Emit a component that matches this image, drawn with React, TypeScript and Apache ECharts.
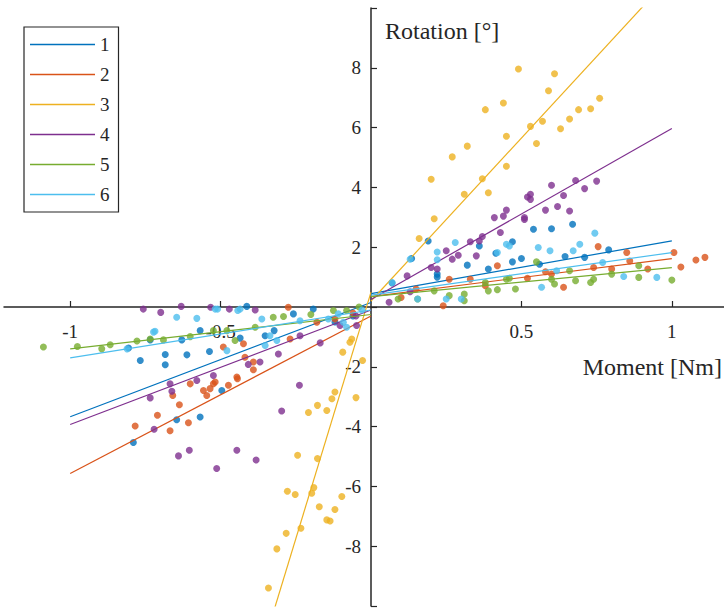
import React, { useEffect, useRef } from "react";
import * as echarts from "echarts";

const seriesNames = ["1", "2", "3", "4", "5", "6"];
const seriesColors = ["#0072BD", "#D95319", "#EDB120", "#7E2F8E", "#77AC30", "#4DBEEE"];

const xTickValues = [-1, -0.5, 0.5, 1];
const yTickLabelValues = [-8, -6, -4, -2, 2, 4, 6, 8];

// Measured points [moment, rotation]
const points1 = [
  [0.07, 0.8], [0.135, 1.62], [0.19, 2.21], [0.22, 1.0], [0.22, 1.1], [0.32, 1.4], [0.36, 2.04], [0.39, 1.27],
  [0.415, 1.8], [0.47, 2.18], [0.47, 1.51], [0.5, 1.62], [0.54, 2.6], [0.56, 1.43], [0.6, 2.62], [0.645, 1.69],
  [0.67, 2.77], [0.71, 1.66], [0.79, 1.91],
  [-0.806, -1.37], [-0.79, -4.53], [-0.767, -1.79], [-0.734, -1.1], [-0.684, -1.59], [-0.684, -1.93],
  [-0.646, -3.77], [-0.629, -1.1], [-0.612, -1.6], [-0.568, -3.68], [-0.568, -0.79], [-0.537, -1.49],
  [-0.496, -2.79], [-0.435, -1.04], [-0.413, 0.02], [-0.352, -0.96], [-0.322, -0.79], [-0.258, -0.23],
  [-0.192, -0.07], [-0.12, -0.5], [-0.06, -0.3],
];
const points2 = [
  [0.1, 0.32], [0.15, 0.6], [0.24, 0.04], [0.26, 0.93], [0.33, 0.93], [0.38, 0.71], [0.42, 1.38], [0.52, 0.96],
  [0.58, 1.18], [0.6, 1.1], [0.64, 0.66], [0.74, 1.32], [0.755, 2.02], [0.8, 1.27], [0.85, 1.82], [0.86, 1.54],
  [0.92, 1.27], [1.007, 1.82], [1.03, 1.34], [1.08, 1.57], [1.11, 1.66],
  [-0.784, -3.98], [-0.71, -3.62], [-0.668, -4.14], [-0.607, -3.87], [-0.637, -3.27], [-0.659, -2.96],
  [-0.601, -2.57], [-0.546, -2.96], [-0.535, -2.73], [-0.518, -2.51], [-0.474, -2.62], [-0.444, -2.4],
  [-0.557, -2.79], [-0.524, -2.57], [-0.446, -2.34], [-0.419, -1.68], [-0.391, -2.1], [-0.391, -1.84],
  [-0.491, -1.34], [-0.424, -1.23], [-0.269, -1.07], [-0.275, -0.01], [-0.18, -0.51], [-0.12, -0.4], [-0.06, -0.2],
];
const points3 = [
  [0.16, 2.29], [0.21, 2.95], [0.2, 4.27], [0.27, 5.02], [0.32, 5.38], [0.31, 3.77], [0.37, 4.29], [0.38, 6.6],
  [0.39, 3.82], [0.44, 6.82], [0.45, 5.71], [0.45, 4.71], [0.49, 7.96], [0.53, 6.04], [0.55, 5.47], [0.57, 6.21],
  [0.59, 7.23], [0.61, 7.8], [0.63, 5.96], [0.66, 6.29], [0.69, 6.6], [0.73, 6.63], [0.76, 6.98],
  [-0.064, -1.07], [-0.07, -1.18], [-0.094, -1.51], [-0.028, -1.79], [-0.12, -2.84], [-0.13, -3.07],
  [-0.05, -3.03], [-0.147, -3.46], [-0.178, -3.29], [-0.208, -3.53], [-0.244, -4.96], [-0.178, -5.07],
  [-0.19, -6.04], [-0.197, -6.23], [-0.278, -6.16], [-0.252, -6.27], [-0.172, -6.68], [-0.12, -6.77],
  [-0.097, -6.34], [-0.147, -7.12], [-0.136, -7.16], [-0.233, -7.4], [-0.282, -7.57], [-0.313, -8.09], [-0.341, -9.4],
];
const points4 = [
  [0.06, 0.16], [0.13, 0.51], [0.12, 1.04], [0.2, 1.32], [0.22, 1.27], [0.25, 1.88], [0.27, 1.6], [0.29, 1.73],
  [0.33, 2.18], [0.35, 1.71], [0.36, 2.21], [0.37, 2.36], [0.41, 2.99], [0.43, 2.49], [0.44, 3.04], [0.45, 3.24],
  [0.51, 2.93], [0.51, 2.99], [0.53, 3.6], [0.53, 3.77], [0.52, 3.68], [0.58, 3.24], [0.6, 4.07], [0.62, 3.36],
  [0.64, 3.73], [0.66, 3.21], [0.68, 4.23], [0.71, 3.96], [0.75, 4.21],
  [-0.757, -0.07], [-0.699, -0.18], [-0.631, 0.02], [-0.533, -0.01], [-0.471, -0.07], [-0.385, -0.1],
  [-0.169, -1.2], [-0.238, -2.62], [-0.308, -1.57], [-0.236, -0.96], [-0.103, -0.62], [-0.369, -1.84],
  [-0.408, -1.92], [-0.524, -2.29], [-0.668, -2.57], [-0.579, -2.46], [-0.297, -3.48], [-0.64, -4.98],
  [-0.604, -4.79], [-0.513, -5.4], [-0.446, -4.79], [-0.382, -5.12], [-0.734, -3.04], [-0.662, -2.82],
  [-0.721, -4.09], [-0.048, -0.62], [-0.05, -0.3],
];
const points5 = [
  [0.09, 0.27], [0.155, 0.27], [0.21, 0.54], [0.26, 0.38], [0.31, 0.43], [0.31, 0.21], [0.38, 0.82], [0.39, 0.54],
  [0.42, 0.58], [0.45, 0.93], [0.48, 0.6], [0.46, 0.96], [0.55, 1.51], [0.6, 0.93], [0.61, 0.77], [0.66, 1.21],
  [0.68, 0.88], [0.73, 0.82], [0.74, 0.93], [0.8, 1.1], [0.89, 1.38], [0.89, 0.99], [1.0, 0.9],
  [-1.089, -1.34], [-0.976, -1.32], [-0.895, -1.4], [-0.867, -1.26], [-0.778, -1.14], [-0.734, -1.07],
  [-0.69, -1.1], [-0.601, -0.99], [-0.524, -0.79], [-0.479, -0.79], [-0.452, -1.12], [-0.385, -0.68],
  [-0.325, -0.34], [-0.291, -0.32], [-0.2, -0.25], [-0.125, -0.12], [-0.081, -0.12], [-0.04, 0.0],
];
const points6 = [
  [0.07, 0.82], [0.13, 1.6], [0.155, 0.27], [0.22, 1.84], [0.22, 1.58], [0.25, 0.27], [0.28, 2.16], [0.3, 0.27],
  [0.42, 1.82], [0.45, 2.1], [0.46, 2.04], [0.556, 1.99], [0.567, 0.66], [0.595, 1.88], [0.617, 1.21],
  [0.672, 1.88], [0.694, 2.1], [0.744, 2.47], [0.77, 1.49], [0.84, 1.02], [0.95, 0.99],
  [-0.811, -1.4], [-0.723, -0.84], [-0.718, -0.81], [-0.646, -0.34], [-0.579, -0.38], [-0.518, -0.07],
  [-0.51, -0.07], [-0.479, -1.46], [-0.443, -0.12], [-0.435, -0.07], [-0.363, -0.4], [-0.352, -1.29],
  [-0.336, -0.96], [-0.313, -1.12], [-0.236, -0.46], [-0.142, -0.4], [-0.109, -0.23], [-0.092, -0.51],
  [-0.081, -0.68], [-0.03, -0.1],
];

// Fitted lines (negative side, positive side)
const fit1Neg = [[-1, -3.67], [0, 0.15]];
const fit1Pos = [[0, 0.45], [1, 2.21]];
const fit2Neg = [[-1, -5.57], [0, -0.3]];
const fit2Pos = [[0, 0.35], [1, 1.62]];
const fit3Neg = [[-1, -32.5], [0, 0.5]];
const fit3Pos = [[0, 0.2], [1, 11.1]];
const fit4Neg = [[-1, -3.93], [0, -0.1]];
const fit4Pos = [[0, 0.25], [1, 5.97]];
const fit5Neg = [[-1, -1.4], [0, -0.25]];
const fit5Pos = [[0, 0.35], [1, 1.32]];
const fit6Neg = [[-1, -1.7], [0, -0.1]];
const fit6Pos = [[0, 0.4], [1, 1.82]];

const allPoints = [points1, points2, points3, points4, points5, points6];
const allFits = [
  [fit1Neg, fit1Pos], [fit2Neg, fit2Pos], [fit3Neg, fit3Pos],
  [fit4Neg, fit4Pos], [fit5Neg, fit5Pos], [fit6Neg, fit6Pos],
];

const X_MIN = -1.22;
const X_MAX = 1.18;
const Y_MIN = -10;
const Y_MAX = 10;

const FONT = "Liberation Serif, Times New Roman, serif";
const AXIS_COLOR = "#262626";

export default function App() {
  const ref = useRef<HTMLDivElement>(null);
  useEffect(() => {
    if (!ref.current) return;
    const chart = echarts.init(ref.current, null, { renderer: "svg" });
    const gridLeft = 4;
    const gridTop = 8;
    const gridWidth = 722;
    const gridHeight = 598;
    // shift the axes so that they cross at the origin
    const xAxisOffset = -(gridHeight * (0 - Y_MIN)) / (Y_MAX - Y_MIN);
    const yAxisOffset = -(gridWidth * (0 - X_MIN)) / (X_MAX - X_MIN);

    const series: any[] = [];
    seriesNames.forEach((name, i) => {
      const color = seriesColors[i];
      series.push({
        name: name + "pts",
        type: "scatter",
        data: allPoints[i],
        symbolSize: 7,
        itemStyle: { color },
        clip: true,
        z: 2 + i,
      });
      allFits[i].forEach((seg) => {
        series.push({
          name,
          type: "line",
          data: seg,
          symbol: "none",
          showSymbol: false,
          lineStyle: { color, width: 1.2 },
          itemStyle: { color },
          clip: true,
          z: 2 + i,
        });
      });
    });
    chart.setOption({
      animation: false,
      grid: {
        left: gridLeft,
        top: gridTop,
        width: gridWidth,
        height: gridHeight,
        containLabel: false,
        outerBoundsMode: "none",
      },
      legend: {
        data: seriesNames,
        orient: "vertical",
        left: 24,
        top: 27,
        padding: [8, 9, 8, 6],
        icon: "rect",
        itemWidth: 65,
        itemHeight: 1.4,
        itemGap: 11,
        borderColor: AXIS_COLOR,
        borderWidth: 1.2,
        borderRadius: 0,
        backgroundColor: "#fff",
        textStyle: { fontFamily: FONT, fontSize: 19, lineHeight: 14, color: "#262626" },
        selectedMode: false,
      },
      xAxis: {
        type: "value",
        min: X_MIN,
        max: X_MAX,
        position: "bottom",
        offset: xAxisOffset,
        axisLine: { onZero: false, lineStyle: { color: AXIS_COLOR, width: 1.5 } },
        axisTick: {
          show: true,
          inside: true,
          length: 6,
          customValues: xTickValues,
          lineStyle: { color: AXIS_COLOR, width: 1.2 },
        },
        axisLabel: {
          customValues: xTickValues,
          fontFamily: FONT,
          fontSize: 19,
          color: "#262626",
          margin: 15,
        },
        splitLine: { show: false },
      },
      yAxis: {
        type: "value",
        min: Y_MIN,
        max: Y_MAX,
        interval: 2,
        position: "left",
        offset: yAxisOffset,
        axisLine: { onZero: false, lineStyle: { color: AXIS_COLOR, width: 1.5 } },
        axisTick: { show: true, inside: true, length: 6, lineStyle: { color: AXIS_COLOR, width: 1.2 } },
        axisLabel: {
          customValues: yTickLabelValues,
          fontFamily: FONT,
          fontSize: 19,
          color: "#262626",
          margin: 10,
        },
        splitLine: { show: false },
      },
      graphic: [
        {
          type: "text",
          left: 385,
          top: 19,
          style: { text: "Rotation [°]", fontFamily: FONT, fontSize: 24, fill: "#262626" },
          z: 100,
        },
        {
          type: "text",
          x: 722,
          y: 367,
          style: {
            text: "Moment [Nm]",
            fontFamily: FONT,
            fontSize: 24,
            fill: "#262626",
            textAlign: "right",
            textVerticalAlign: "middle",
          },
          z: 100,
        },
      ],
      series,
    });
    return () => chart.dispose();
  }, []);
  return (
    <div
      ref={ref}
      style={{ position: "absolute", left: 0, top: 0, width: 724, height: 608, background: "#fff" }}
    />
  );
}
